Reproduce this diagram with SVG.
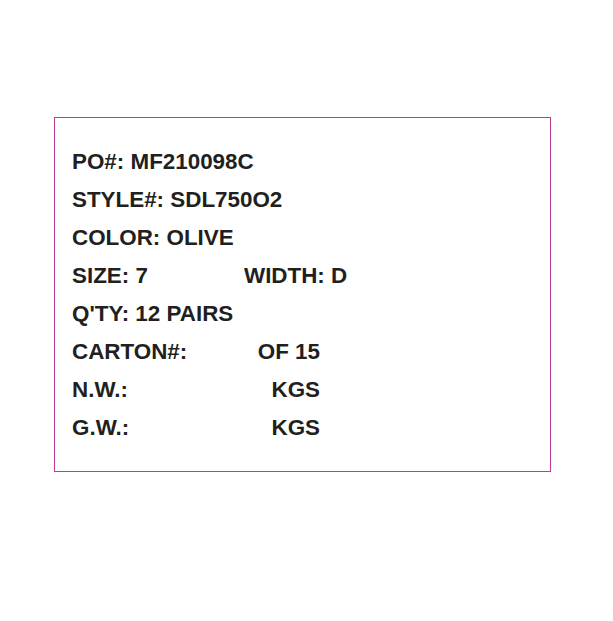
<svg xmlns="http://www.w3.org/2000/svg" width="613" height="621" viewBox="0 0 613 621">
<style>
.t{font-family:"Liberation Sans",Arial,sans-serif;font-weight:bold;font-size:22.4px;fill:#231f20}
</style>
<rect width="613" height="621" fill="#ffffff"/>
<g id="label">
<rect x="54.5" y="117.5" width="496" height="354" fill="none" stroke="#c0399b" stroke-width="1"/>
<text class="t" x="72" y="169">PO#: MF210098C</text>
<text class="t" x="72" y="207">STYLE#: SDL750O2</text>
<text class="t" x="72" y="245">COLOR: OLIVE</text>
<text class="t" x="72" y="283">SIZE: 7</text>
<text class="t" x="244" y="283">WIDTH: D</text>
<text class="t" x="72" y="321">Q'TY: 12 PAIRS</text>
<text class="t" x="72" y="359">CARTON#:</text>
<text class="t" x="320" y="359" text-anchor="end">OF 15</text>
<text class="t" x="72" y="397">N.W.:</text>
<text class="t" x="320" y="397" text-anchor="end">KGS</text>
<text class="t" x="72" y="435">G.W.:</text>
<text class="t" x="320" y="435" text-anchor="end">KGS</text>
</g>
</svg>
